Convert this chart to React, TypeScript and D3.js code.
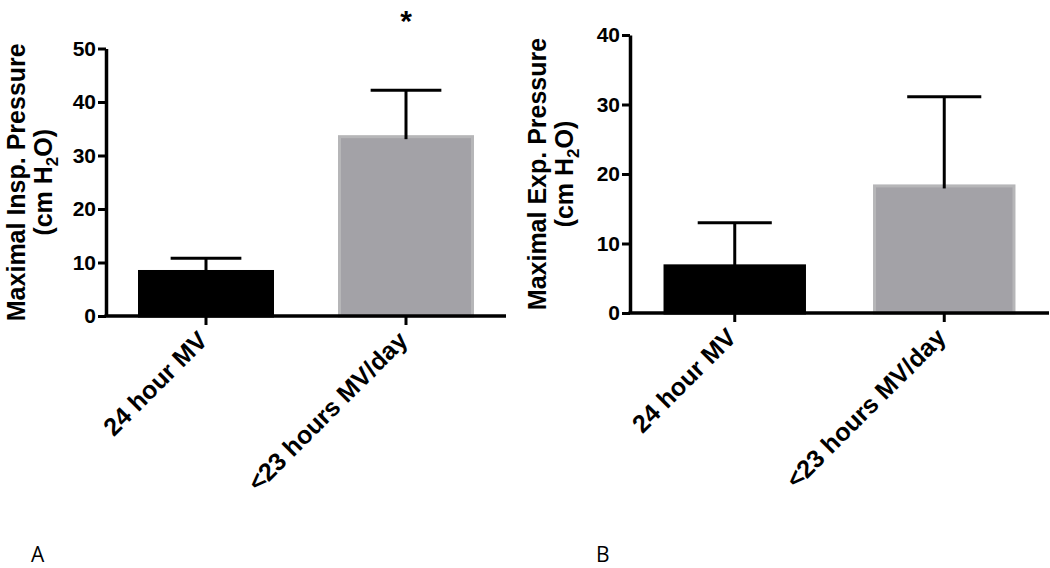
import React, { useEffect, useRef } from "react";
import * as d3 from "d3";

// ---- Data ----
const categories = ["24 hour MV", "<23 hours MV/day"];
const inspMeans = [8.6, 33.8];
const inspErrors = [2.2, 8.4];
const expMeans = [7.0, 18.5];
const expErrors = [6.0, 12.6];
const inspTicks = [0, 10, 20, 30, 40, 50];
const expTicks = [0, 10, 20, 30, 40];
const barColors = ["#000000", "#a3a2a7"];
const barStrokes = ["#000000", "#b6b6b8"];

const FONT = "'Liberation Sans', Arial, Helvetica, sans-serif";

interface PanelCfg {
  axisX: number;
  y0: number;
  yTop: number;
  yMax: number;
  xEnd: number;
  labelX1: number;
  labelX2: number;
  title: string;
  letter: string;
  letterX: number;
  star: boolean;
}

const panels: PanelCfg[] = [
  { axisX: 106, y0: 316, yTop: 48.5, yMax: 50, xEnd: 506, labelX1: 25, labelX2: 52, title: "Maximal Insp. Pressure", letter: "A", letterX: 31, star: true },
  { axisX: 630, y0: 313, yTop: 35, yMax: 40, xEnd: 1049, labelX1: 546, labelX2: 573, title: "Maximal Exp. Pressure", letter: "B", letterX: 596, star: false },
];

export default function App() {
  const ref = useRef<SVGSVGElement | null>(null);

  useEffect(() => {
    const svg = d3.select(ref.current);
    svg.selectAll("*").remove();
    const datasets = [
      { means: inspMeans, errs: inspErrors, ticks: inspTicks },
      { means: expMeans, errs: expErrors, ticks: expTicks },
    ];

    panels.forEach((p, i) => {
      const ds = datasets[i];
      const g = svg.append("g");
      const y = d3.scaleLinear().domain([0, p.yMax]).range([p.y0, p.yTop]);
      const x = d3
        .scaleBand<string>()
        .domain(categories)
        .range([p.axisX, p.xEnd])
        .paddingInner(0.32)
        .paddingOuter(0.16);
      const bw = x.bandwidth();
      const capHalf = bw * 0.26;

      // bars
      g.selectAll("rect.bar")
        .data(categories)
        .join("rect")
        .attr("class", "bar")
        .attr("x", (c) => x(c)! + 1.5)
        .attr("width", bw - 3)
        .attr("y", (c, j) => y(ds.means[j]) + 1.5)
        .attr("height", (c, j) => p.y0 - y(ds.means[j]) - 1.5)
        .attr("fill", (c, j) => barColors[j])
        .attr("stroke", (c, j) => barStrokes[j])
        .attr("stroke-width", 3);

      // error bars
      categories.forEach((c, j) => {
        const cx = x(c)! + bw / 2;
        const top = y(ds.means[j] + ds.errs[j]);
        g.append("line")
          .attr("x1", cx).attr("x2", cx)
          .attr("y1", y(ds.means[j]) + 4).attr("y2", top)
          .attr("stroke", "#000").attr("stroke-width", 3);
        g.append("line")
          .attr("x1", cx - capHalf).attr("x2", cx + capHalf)
          .attr("y1", top).attr("y2", top)
          .attr("stroke", "#000").attr("stroke-width", 3);
      });

      // y axis
      const ya = g.append("g")
        .attr("transform", `translate(${p.axisX},0)`)
        .call(d3.axisLeft(y).tickValues(ds.ticks).tickSize(8).tickSizeOuter(0).tickPadding(2).tickFormat(d3.format("d")));
      ya.select(".domain").attr("stroke", "#000").attr("stroke-width", 3.5);
      ya.selectAll(".tick line").attr("stroke", "#000").attr("stroke-width", 3);
      ya.selectAll(".tick text")
        .attr("font-family", FONT)
        .attr("font-weight", "bold")
        .attr("font-size", 21)
        .attr("fill", "#000");

      // x axis
      const xa = g.append("g")
        .attr("transform", `translate(0,${p.y0})`)
        .call(d3.axisBottom(x).tickSize(9).tickSizeOuter(0).tickFormat(() => ""));
      xa.select(".domain").attr("stroke", "#000").attr("stroke-width", 3.5)
        .attr("d", `M${p.axisX - 1.5},0H${p.xEnd}`);
      xa.selectAll(".tick line").attr("stroke", "#000").attr("stroke-width", 3);

      // x labels rotated
      categories.forEach((c) => {
        const cx = x(c)! + bw / 2;
        g.append("text")
          .attr("transform", `translate(${cx + 3},${p.y0 + 26}) rotate(-45)`)
          .attr("text-anchor", "end")
          .attr("font-family", FONT)
          .attr("font-weight", "bold")
          .attr("font-size", 25)
          .attr("fill", "#000")
          .text(c);
      });

      // y label
      const cy = (p.y0 + p.yTop) / 2;
      g.append("text")
        .attr("transform", `translate(${p.labelX1},${cy}) rotate(-90)`)
        .attr("text-anchor", "middle")
        .attr("font-family", FONT)
        .attr("font-weight", "bold")
        .attr("font-size", 25)
        .attr("fill", "#000")
        .text(p.title);
      const t2 = g.append("text")
        .attr("transform", `translate(${p.labelX2},${cy}) rotate(-90)`)
        .attr("text-anchor", "middle")
        .attr("font-family", FONT)
        .attr("font-weight", "bold")
        .attr("font-size", 25)
        .attr("fill", "#000");
      t2.append("tspan").text("(cm H");
      t2.append("tspan").attr("font-size", 17).attr("dy", 6).text("2");
      t2.append("tspan").attr("dy", -6).text("O)");

      // star
      if (p.star) {
        const cx = x(categories[1])! + bw / 2;
        g.append("text")
          .attr("x", cx)
          .attr("y", 31)
          .attr("text-anchor", "middle")
          .attr("font-family", FONT)
          .attr("font-weight", "bold")
          .attr("font-size", 30)
          .attr("fill", "#000")
          .text("*");
      }

      // panel letter
      g.append("text")
        .attr("x", p.letterX)
        .attr("y", 562)
        .attr("font-family", "'Liberation Sans Narrow', 'Open Sans', sans-serif")
        .attr("font-size", 21)
        .attr("fill", "#000")
        .text(p.letter);
    });
  }, []);

  return (
    <svg
      ref={ref}
      width={1050}
      height={568}
      style={{ position: "absolute", left: 0, top: 0, background: "#fff" }}
    />
  );
}
